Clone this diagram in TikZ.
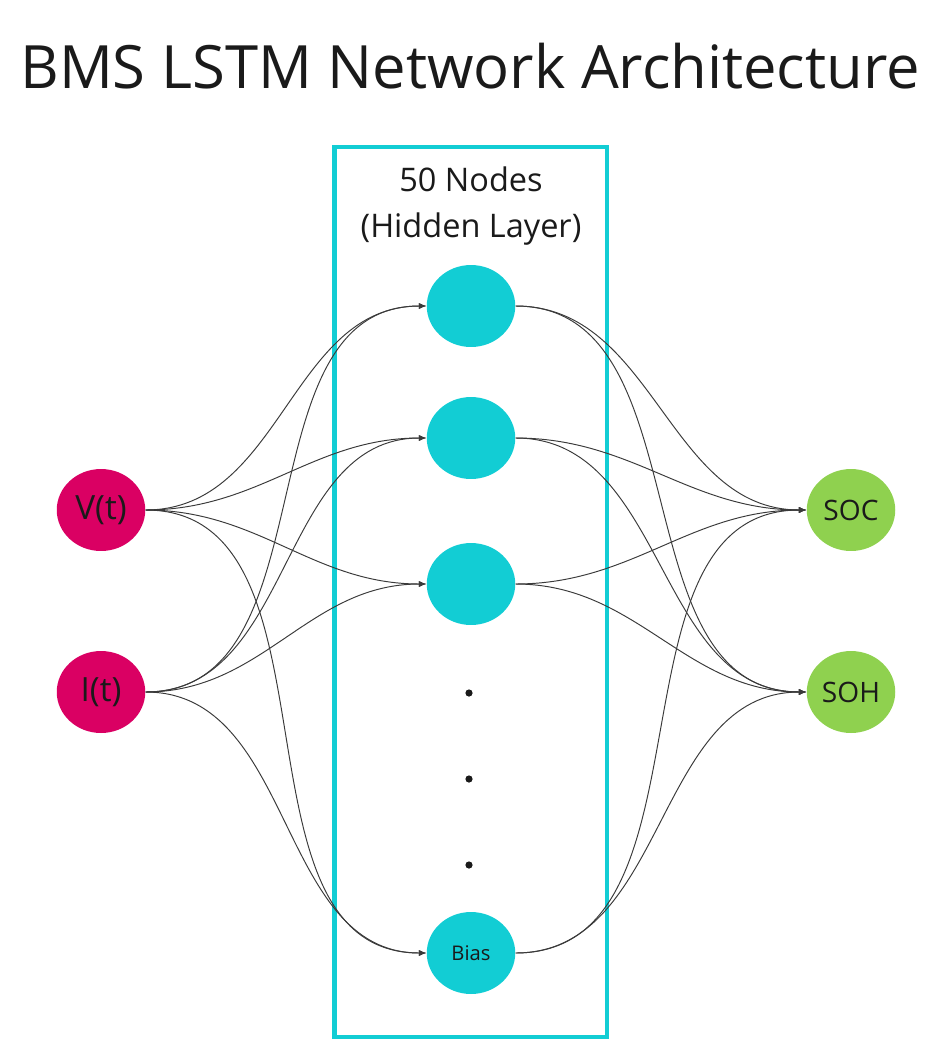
\documentclass[tikz,border=0pt]{standalone}
\usepackage{fontspec}
\setmainfont{Open Sans}
\usetikzlibrary{shapes.geometric, arrows.meta}
\definecolor{input-pink}{HTML}{DA0063}
\definecolor{hidden-cyan}{HTML}{12CDD4}
\definecolor{output-green}{HTML}{8FD14F}
\definecolor{jet}{HTML}{1A1A1A}
\definecolor{wire}{HTML}{3A3A3A}

\begin{document}
\begin{tikzpicture}[x=0.02cm, y=-0.02cm,
    every node/.style={text=jet},
    unit/.style={ellipse, inner sep=0pt, minimum width=1.77cm,
      minimum height=1.64cm},
    link/.style={-{Latex[length=1.5mm, width=1.2mm]}, line width=0.55pt,
      color=wire, out=0, in=180}]
    \useasboundingbox (0, 0) rectangle (942, 1061);
    \node (title) at (470, 66) {\fontsize{34}{40}\selectfont BMS LSTM Network Architecture};
    \draw[hidden-cyan, line width=0.09cm] (334.5, 147) rectangle (607, 1037);
    \node[align=center, font=\fontsize{18.5}{26.5}\selectfont] (lbl) at (471, 206)
      {50 Nodes\\(Hidden Layer)};
    % input layer
    \node[unit, fill=input-pink, font=\fontsize{19}{22}\selectfont] (v) at (101, 510) {V(t)};
    \node[unit, fill=input-pink, font=\fontsize{19}{22}\selectfont] (i) at (101, 692) {I(t)};
    % hidden layer
    \node[unit, fill=hidden-cyan] (h1) at (471, 306) {};
    \node[unit, fill=hidden-cyan] (h2) at (471, 438) {};
    \node[unit, fill=hidden-cyan] (h3) at (471, 584) {};
    \node[unit, fill=hidden-cyan, font=\fontsize{11.5}{14}\selectfont] (bias) at (471, 953) {Bias};
    \foreach \y in {693, 779, 865}
      \fill[jet] (469, \y) circle (3.6);
    % output layer
    \node[unit, fill=output-green, font=\fontsize{16}{20}\selectfont] (soc) at (851, 510) {SOC};
    \node[unit, fill=output-green, font=\fontsize{16}{20}\selectfont] (soh) at (851, 692) {SOH};
    \foreach \a in {v, i}
      \foreach \b in {h1, h2, h3, bias}
        \draw[link] (\a) to (\b);
    \foreach \a in {h1, h2, h3, bias}
      \foreach \b in {soc, soh}
        \draw[link] (\a) to (\b);
  \end{tikzpicture}
\end{document}
